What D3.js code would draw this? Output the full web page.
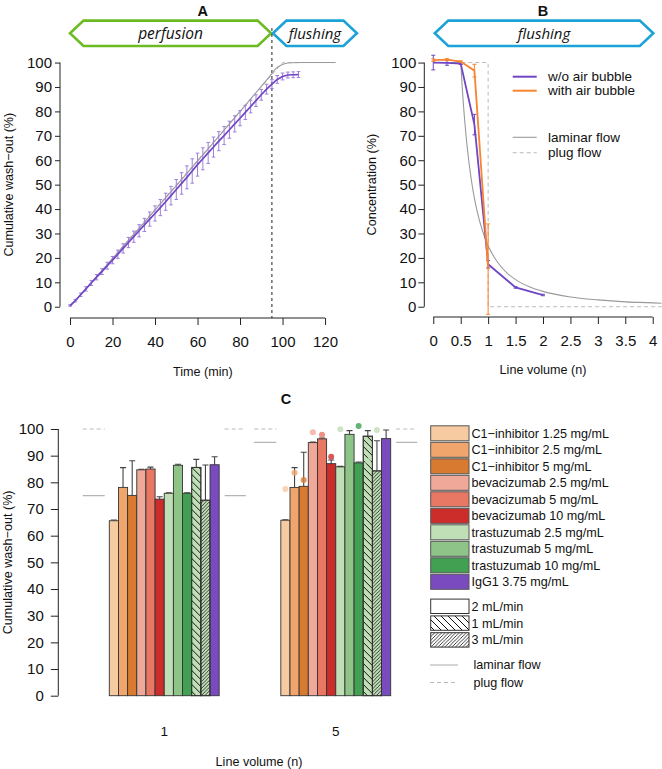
<!DOCTYPE html>
<html>
<head>
<meta charset="utf-8">
<script src="https://cdn.jsdelivr.net/npm/d3@7"></script>
<style>
    body { margin: 0; background: #fff; }
    svg text { font-family: "Liberation Sans", Arial, sans-serif; fill: #111; }
    .phase text { font-family: "Open Sans", sans-serif; font-style: italic; }
</style>
</head>
<body>
<svg id="fig" width="662" height="769"></svg>
<script>
/* * * * * * * * * * * * * *
*        wash-out data       *
* * * * * * * * * * * * * */

// panel A - cumulative wash-out vs time
const timeA = [0, 2.5, 5, 7.5, 10, 12.5, 15, 17.5, 20, 22.5, 25, 27.5, 30, 32.5, 35, 37.5, 40, 42.5, 45, 47.5,
    50, 52.5, 55, 57.5, 60, 62.5, 65, 67.5, 70, 72.5, 75, 77.5, 80, 82.5, 85, 87.5, 90, 92.5, 95, 97.5,
    100, 102.5, 105, 107.5];
const washA = [0.5, 2.5, 4.9, 7.3, 9.7, 12.1, 14.4, 16.8, 19.1, 21.5, 23.9, 26.3, 28.7, 31.1, 33.5, 35.9, 38.2, 40.6, 43.0, 45.5,
    48.0, 50.5, 53.0, 55.6, 58.2, 60.6, 63.0, 65.4, 67.8, 70.1, 72.5, 74.9, 77.2, 79.6, 82.0, 84.4, 86.8, 89.1, 91.2, 93.1,
    94.3, 94.9, 95.0, 95.1];
const washErrA = [0.3, 0.5, 0.7, 0.9, 1.0, 1.1, 1.2, 1.4, 1.5, 1.7, 1.9, 2.1, 2.3, 2.5, 2.7, 2.9, 3.1, 3.3, 3.5, 3.8,
    4.1, 4.4, 4.7, 5.0, 4.7, 4.5, 4.3, 4.1, 3.9, 3.7, 3.5, 3.3, 3.1, 2.9, 2.6, 2.4, 2.2, 2.0, 1.8, 1.6,
    1.4, 1.2, 1.2, 1.2];
const laminarTimeA = [0, 95, 97, 99, 101, 104, 110, 125];
const laminarWashA = [0, 95.5, 97.6, 98.8, 99.5, 99.9, 100, 100];
const plugTimeA = [0, 100, 125];
const plugWashA = [0, 100, 100];
const switchTimeA = 95;
const phasesA = [["perfusion", 0, 95], ["flushing", 95, 135]];
const xTicksA = [0, 20, 40, 60, 80, 100, 120];
const yTicks = [0, 10, 20, 30, 40, 50, 60, 70, 80, 90, 100];

// panel B - outlet concentration vs line volume
const volB = [0, 0.25, 0.5, 0.75, 1, 1.5, 2];
const noBubbleB = [100.0, 99.9, 99.6, 74.6, 17.4, 7.9, 4.8];
const noBubbleErrB = [3.0, 1.0, 0.4, 4.2, 1.5, 0.3, 0.3];
const volBubbleB = [0, 0.25, 0.5, 0.75, 1];
const bubbleB = [101.0, 101.2, 100.4, 96.7, 15.4];
const bubbleErrB = [0.5, 0.4, 0.3, 2.6, 18.5];
const laminarVolB = [0, 0.5, 0.52, 0.55, 0.6, 0.65, 0.7, 0.75, 0.8, 0.9, 1, 1.1, 1.2, 1.35, 1.5, 1.75, 2, 2.5, 3, 3.5, 4, 4.16];
const laminarConcB = [100, 100, 92.5, 82.6, 69.4, 59.2, 51.0, 44.4, 39.1, 30.9, 25.0, 20.7, 17.4, 13.7, 11.1, 8.2, 6.3, 4.0, 2.8, 2.0, 1.6, 1.4];
const plugVolB = [0, 1, 1, 4.16];
const plugConcB = [100, 100, 0, 0];
const phasesB = [["flushing", 0, 4]];
const xTicksB = [0, 0.5, 1, 1.5, 2, 2.5, 3, 3.5, 4];
const legendB = ["w/o air bubble", "with air bubble", "laminar flow", "plug flow"];

// panel C - wash-out per product after 1 and 5 line volumes
const lineVolumesC = ["1", "5"];
const products = ["C1\u2212inhibitor 1.25 mg/mL", "C1\u2212inhibitor 2.5 mg/mL", "C1\u2212inhibitor 5 mg/mL",
    "bevacizumab 2.5 mg/mL", "bevacizumab 5 mg/mL", "bevacizumab 10 mg/mL",
    "trastuzumab 2.5 mg/mL", "trastuzumab 5 mg/mL", "trastuzumab 10 mg/mL", "IgG1 3.75 mg/mL"];
const rates = ["2 mL/min", "1 mL/min", "3 mL/min"];
const barProduct = [0, 1, 2, 3, 4, 5, 6, 7, 8, 6, 6, 9];
const barRate = [0, 0, 0, 0, 0, 0, 0, 0, 0, 1, 2, 0];
const washC1 = [65.6, 78.1, 75.1, 84.7, 85.0, 73.7, 75.9, 86.4, 75.9, 85.6, 73.3, 86.6];
const errTopC1 = [65.9, 85.5, 88.1, 84.9, 85.7, 74.6, 76.1, 86.8, 76.1, 88.6, 86.5, 89.6];
const washC5 = [65.8, 78.1, 78.5, 94.9, 96.3, 87.0, 85.8, 98.0, 87.3, 97.3, 84.3, 96.4];
const errTopC5 = [66.0, 85.5, 91.3, 95.1, 96.6, 88.4, 86.0, 99.4, 87.6, 99.4, 95.6, 99.6];
const dotsC5 = [77.5, 83.6, 80.9, 98.8, 97.8, null, 89.6, 99.9, 88.4, 101.1, 88.1, 99.6];
const laminarC = [75, 95];
const plugC = [100, 100];

// colours
const productColors = ["#f6cba2", "#efa56c", "#d97a31", "#f0a999", "#e87764", "#cc2d2b",
    "#c0dfb7", "#8ec488", "#41a052", "#7a4bbf"];
const purple = "#7046c4", purpleErr = "#9f80dc", orange = "#f7842f";
const green = "#6cbb22", blue = "#1ba3d8";
const refGray = "#9a9a9a";

const tickFont = 15, labelFont = 12.6;

let svg = d3.select("#fig");

// hatch patterns for the flow rates
let defs = svg.append("defs");
defs.append("pattern").attr("id", "hatch1")
    .attr("patternUnits", "userSpaceOnUse").attr("width", 7).attr("height", 7)
    .append("path").attr("d", "M0,0L7,7M-1,6L1,8M6,-1L8,1")
    .attr("stroke", "#111").attr("stroke-width", 1);
defs.append("pattern").attr("id", "hatch3")
    .attr("patternUnits", "userSpaceOnUse").attr("width", 3.5).attr("height", 3.5)
    .append("path").attr("d", "M0,3.5L3.5,0M-1,1L1,-1M2.5,4.5L4.5,2.5")
    .attr("stroke", "#111").attr("stroke-width", 0.8);
const hatchIds = [null, "hatch1", "hatch3"];

// R-style axes: line only from first to last tick
function leftAxis(g, y, ticks, size, pad) {
    g.call(d3.axisLeft(y).tickValues(ticks).tickSize(size).tickPadding(pad));
    g.select(".domain").remove();
    g.append("line").attr("y1", y(ticks[0])).attr("y2", y(ticks[ticks.length - 1])).attr("stroke", "#222");
    g.selectAll(".tick line").attr("stroke", "#222");
    g.attr("font-size", tickFont);
}
function bottomAxis(g, x, ticks, size, pad) {
    g.call(d3.axisBottom(x).tickValues(ticks).tickSize(size).tickPadding(pad).tickFormat(d => d));
    g.select(".domain").remove();
    g.append("line").attr("x1", x(ticks[0])).attr("x2", x(ticks[ticks.length - 1])).attr("stroke", "#222");
    g.selectAll(".tick line").attr("stroke", "#222");
    g.attr("font-size", tickFont);
}

// banner hexagons above A and B
function drawPhase(x0, x1, label, color, fontSize) {
    let yc = 33.3, h = 12.7, tip = 13.5;
    let g = svg.append("g").attr("class", "phase");
    g.append("path")
        .attr("d", d3.line()([[x0, yc], [x0 + tip, yc - h], [x1 - tip, yc - h], [x1, yc], [x1 - tip, yc + h], [x0 + tip, yc + h]]) + "Z")
        .attr("fill", "none").attr("stroke", color).attr("stroke-width", 2.6).attr("stroke-linejoin", "miter");
    g.append("text").attr("x", (x0 + x1) / 2).attr("y", yc).attr("dy", "0.35em")
        .attr("text-anchor", "middle").attr("font-size", fontSize).text(label);
}

function errorBars(g, xs, ys, errs, x, y, color, cap) {
    g.selectAll(null).data(xs).enter().append("path")
        .attr("d", (d, i) => {
            let px = x(d), lo = y(ys[i] - errs[i]), hi = y(ys[i] + errs[i]);
            return "M" + (px - cap) + "," + hi + "H" + (px + cap) + "M" + px + "," + hi + "V" + lo +
                "M" + (px - cap) + "," + lo + "H" + (px + cap);
        })
        .attr("fill", "none").attr("stroke", color).attr("stroke-width", 1);
}

/* ---------------- panel A ---------------- */
let xA = d3.scaleLinear().domain([-5, 130]).range([59.4, 346.3]);
let yA = d3.scaleLinear().domain([-4, 104]).range([316.5, 52.8]);

svg.append("text").attr("x", xA(62.5)).attr("y", 16).attr("text-anchor", "middle")
    .attr("font-size", 14.5).attr("font-weight", "bold").text("A");
drawPhase(xA(phasesA[0][1]), xA(phasesA[0][2]) - 0.8, phasesA[0][0], green, 15.5);
drawPhase(xA(phasesA[1][1]) + 1, xA(phasesA[1][2]), phasesA[1][0], blue, 15);

leftAxis(svg.append("g").attr("transform", "translate(60,0)"), yA, yTicks, 5, 3);
bottomAxis(svg.append("g").attr("transform", "translate(0,318)"), xA, xTicksA, 7, 11);

// switch from perfusion to flushing
svg.append("line").attr("x1", xA(switchTimeA)).attr("x2", xA(switchTimeA))
    .attr("y1", 28).attr("y2", 318)
    .attr("stroke", "#222").attr("stroke-dasharray", "3,3");

let lineA = d3.line().x(d => xA(d[0])).y(d => yA(d[1]));
svg.append("path").attr("d", lineA(d3.zip(plugTimeA, plugWashA)))
    .attr("fill", "none").attr("stroke", "#bbb").attr("stroke-dasharray", "4,3");
svg.append("path").attr("d", lineA.curve(d3.curveMonotoneX)(d3.zip(laminarTimeA, laminarWashA)))
    .attr("fill", "none").attr("stroke", refGray).attr("stroke-width", 1.1);
lineA.curve(d3.curveLinear);

errorBars(svg.append("g"), timeA, washA, washErrA, xA, yA, purpleErr, 1.8);
svg.append("path").attr("d", lineA(d3.zip(timeA, washA)))
    .attr("fill", "none").attr("stroke", purple).attr("stroke-width", 1.7);

svg.append("text").attr("x", xA(62.5)).attr("y", 376).attr("text-anchor", "middle")
    .attr("font-size", labelFont).text("Time (min)");
svg.append("text").attr("transform", "translate(12.5," + yA(50) + ") rotate(-90)")
    .attr("text-anchor", "middle").attr("font-size", labelFont).text("Cumulative wash\u2212out (%)");

/* ---------------- panel B ---------------- */
let xB = d3.scaleLinear().domain([-0.16, 4.16]).range([424.5, 661.5]);
let yB = yA;

svg.append("text").attr("x", xB(2)).attr("y", 16).attr("text-anchor", "middle")
    .attr("font-size", 14.5).attr("font-weight", "bold").text("B");
drawPhase(xB(phasesB[0][1]) + 1.5, xB(phasesB[0][2]) + 0.6, phasesB[0][0], blue, 15);

leftAxis(svg.append("g").attr("transform", "translate(424.3,0)"), yB, yTicks, 6, 2);
bottomAxis(svg.append("g").attr("transform", "translate(0,317)"), xB, xTicksB, 7, 11);

let lineB = d3.line().x(d => xB(d[0])).y(d => yB(d[1]));
svg.append("path").attr("d", lineB(d3.zip(plugVolB, plugConcB)))
    .attr("fill", "none").attr("stroke", "#bbb").attr("stroke-dasharray", "4,3");
svg.append("path").attr("d", d3.line().x(d => xB(d[0])).y(d => yB(d[1])).curve(d3.curveMonotoneX)(d3.zip(laminarVolB, laminarConcB)))
    .attr("fill", "none").attr("stroke", refGray).attr("stroke-width", 1.1);

errorBars(svg.append("g"), volB, noBubbleB, noBubbleErrB, xB, yB, purple, 2);
svg.append("path").attr("d", lineB(d3.zip(volB, noBubbleB)))
    .attr("fill", "none").attr("stroke", purple).attr("stroke-width", 1.8);
errorBars(svg.append("g"), volBubbleB, bubbleB, bubbleErrB, xB, yB, orange, 2);
svg.append("path").attr("d", lineB(d3.zip(volBubbleB, bubbleB)))
    .attr("fill", "none").attr("stroke", orange).attr("stroke-width", 1.8);

// legend B
const legendBy = [76.7, 90.7, 137.3, 152.7];
const legendBstyle = [[purple, 2, null], [orange, 2, null], [refGray, 1.1, null], ["#bbb", 1, "4,3"]];
legendB.forEach((label, i) => {
    svg.append("line").attr("x1", 512.7).attr("x2", 536.7).attr("y1", legendBy[i]).attr("y2", legendBy[i])
        .attr("stroke", legendBstyle[i][0]).attr("stroke-width", legendBstyle[i][1])
        .attr("stroke-dasharray", legendBstyle[i][2]);
    svg.append("text").attr("x", 548).attr("y", legendBy[i]).attr("dy", "0.35em")
        .attr("font-size", 13.5).text(label);
});

svg.append("text").attr("x", xB(2)).attr("y", 374).attr("text-anchor", "middle")
    .attr("font-size", labelFont).text("Line volume (n)");
svg.append("text").attr("transform", "translate(376," + yB(50) + ") rotate(-90)")
    .attr("text-anchor", "middle").attr("font-size", labelFont).text("Concentration (%)");

/* ---------------- panel C ---------------- */
let yC = d3.scaleLinear().domain([0, 100]).range([695.7, 429]);
let xGroup = d3.scaleBand().domain(lineVolumesC).range([109.3, 390.7]).paddingInner(0.3594).paddingOuter(0);
let xBar = d3.scaleBand().domain(d3.range(barProduct.length)).range([0, xGroup.bandwidth()]);
let bw = xBar.bandwidth();

svg.append("text").attr("x", 286).attr("y", 403.5).attr("text-anchor", "middle")
    .attr("font-size", 14.5).attr("font-weight", "bold").text("C");

leftAxis(svg.append("g").attr("transform", "translate(58.3,0)"), yC, yTicks, 7.5, 7);

const groupData = [[washC1, errTopC1, null], [washC5, errTopC5, dotsC5]];

lineVolumesC.forEach((lv, gi) => {
    let g0 = xGroup(lv), g1 = g0 + xGroup.bandwidth();

    // theoretical reference marks either side of the group
    [[g0 - 2.9 * bw, g0 - 0.5 * bw], [g1 + 0.6 * bw, g1 + 2.9 * bw]].forEach(seg => {
        svg.append("line").attr("x1", seg[0]).attr("x2", seg[1])
            .attr("y1", yC(plugC[gi])).attr("y2", yC(plugC[gi]))
            .attr("stroke", "#bbb").attr("stroke-dasharray", "4,3");
        svg.append("line").attr("x1", seg[0]).attr("x2", seg[1])
            .attr("y1", yC(laminarC[gi])).attr("y2", yC(laminarC[gi]))
            .attr("stroke", "#aaa").attr("stroke-width", 1.1);
    });

    let vals = groupData[gi][0], tops = groupData[gi][1], dots = groupData[gi][2];
    let bars = svg.append("g").attr("class", "bar_group").attr("transform", "translate(" + g0 + ",0)");

    // error bars (upper only) first, bars are drawn over
    bars.selectAll(".err").data(tops).enter().append("path")
        .attr("class", "err")
        .attr("d", (d, i) => {
            let cx = xBar(i) + bw / 2;
            return "M" + cx + "," + yC(vals[i]) + "V" + yC(d) + "M" + (cx - 3) + "," + yC(d) + "H" + (cx + 3);
        })
        .attr("stroke", "#444").attr("stroke-width", 1.1).attr("fill", "none");

    bars.selectAll(".bars").data(vals).enter().append("rect")
        .attr("class", "bars")
        .attr("x", (d, i) => xBar(i)).attr("width", bw)
        .attr("y", d => yC(d)).attr("height", d => yC(0) - yC(d))
        .attr("fill", (d, i) => productColors[barProduct[i]])
        .attr("stroke", "#333").attr("stroke-width", 0.9);
    bars.selectAll(".hatch").data(vals.filter((d, i) => barRate[i] > 0)).enter().append("rect")
        .attr("class", "hatch")
        .attr("x", d => xBar(vals.indexOf(d))).attr("width", bw)
        .attr("y", d => yC(d)).attr("height", d => yC(0) - yC(d))
        .attr("fill", d => "url(#" + hatchIds[barRate[vals.indexOf(d)]] + ")")
        .attr("stroke", "#333").attr("stroke-width", 0.9);

    if (dots) {
        bars.selectAll(".dots").data(dots).enter().filter(d => d !== null).append("circle")
            .attr("class", "dots")
            .attr("cx", (d, i) => xBar(i) + bw / 2).attr("cy", d => yC(d)).attr("r", 3)
            .attr("fill", (d, i) => productColors[barProduct[i]]).attr("opacity", 0.8);
    }

    svg.append("text").attr("x", (g0 + g1) / 2).attr("y", 736).attr("text-anchor", "middle")
        .attr("font-size", 13.5).text(lv);
});

svg.append("text").attr("x", 259).attr("y", 766).attr("text-anchor", "middle")
    .attr("font-size", labelFont).text("Line volume (n)");
svg.append("text").attr("transform", "translate(11.5," + yC(50) + ") rotate(-90)")
    .attr("text-anchor", "middle").attr("font-size", labelFont).text("Cumulative wash\u2212out (%)");

// legend C - products
let legC = svg.append("g");
products.forEach((p, i) => {
    let yc = 433.3 + i * 16.5;
    legC.append("rect").attr("x", 430.7).attr("y", yc - 7.5).attr("width", 38.3).attr("height", 15)
        .attr("fill", productColors[i]).attr("stroke", "#555").attr("stroke-width", 1);
    legC.append("text").attr("x", 471.5).attr("y", yc).attr("dy", "0.35em").attr("font-size", labelFont).text(p);
});
// legend C - flow rates
rates.forEach((r, i) => {
    let yc = 606.3 + i * 16.8;
    legC.append("rect").attr("x", 430.7).attr("y", yc - 7.2).attr("width", 38.3).attr("height", 14.4)
        .attr("fill", hatchIds[i] ? "url(#" + hatchIds[i] + ")" : "#fff")
        .attr("stroke", "#333").attr("stroke-width", 1);
    legC.append("text").attr("x", 471.5).attr("y", yc).attr("dy", "0.35em").attr("font-size", labelFont).text(r);
});
// legend C - theoretical flows
[["laminar flow", null, "#aaa"], ["plug flow", "4,3", "#bbb"]].forEach((l, i) => {
    let yc = 665 + i * 17.5;
    legC.append("line").attr("x1", 430).attr("x2", 458).attr("y1", yc).attr("y2", yc)
        .attr("stroke", l[2]).attr("stroke-dasharray", l[1]);
    legC.append("text").attr("x", 473.5).attr("y", yc).attr("dy", "0.35em").attr("font-size", labelFont).text(l[0]);
});
</script>
</body>
</html>
